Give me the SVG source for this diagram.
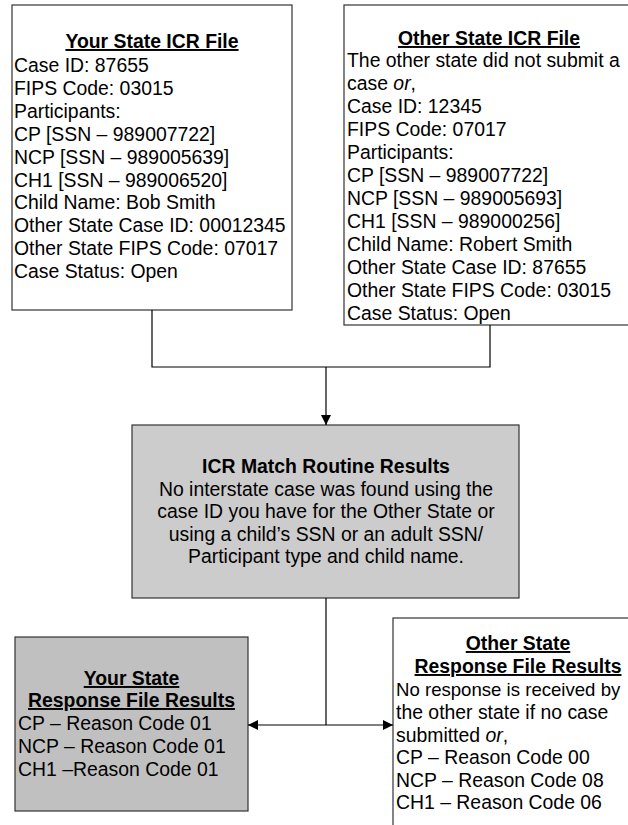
<svg xmlns="http://www.w3.org/2000/svg" width="628" height="825" viewBox="0 0 628 825">
  <style>
    text { font-family: "Liberation Sans", Arial, sans-serif; font-size: 19.4px; fill: #000; }
    .title { font-weight: bold; text-decoration: underline; text-anchor: middle; }
    .head { font-weight: bold; text-anchor: middle; }
    .mid { text-anchor: middle; }
    .box { fill: #fff; stroke: #333; stroke-width: 1.2; }
    .grey { fill: #cccccc; stroke: #333; stroke-width: 1.2; }
    .grey2 { fill: #c0c0c0; stroke: #333; stroke-width: 1.2; }
    .wire { fill: none; stroke: #000; stroke-width: 1.2; }
  </style>
  <defs>
    <marker id="arrow" viewBox="0 0 10 10" refX="10" refY="5" markerWidth="11" markerHeight="10" markerUnits="userSpaceOnUse" orient="auto-start-reverse">
      <path d="M0,0 L10,5 L0,10 z" fill="#000"/>
    </marker>
  </defs>

  <rect width="628" height="825" fill="#fff"/>

  <g id="your-state-icr-file">
    <rect class="box" x="12" y="5" width="280" height="305"/>
    <text class="title" x="152" y="48">Your State ICR File</text>
    <text x="14" y="72">Case ID: 87655</text>
    <text x="14" y="95">FIPS Code: 03015</text>
    <text x="14" y="118">Participants:</text>
    <text x="14" y="141">CP [SSN – 989007722]</text>
    <text x="14" y="164">NCP [SSN – 989005639]</text>
    <text x="14" y="187">CH1 [SSN – 989006520]</text>
    <text x="14" y="209">Child Name: Bob Smith</text>
    <text x="14" y="232">Other State Case ID: 00012345</text>
    <text x="14" y="255">Other State FIPS Code: 07017</text>
    <text x="14" y="278">Case Status: Open</text>
  </g>

  <g id="other-state-icr-file">
    <rect class="box" x="344" y="5" width="300" height="320"/>
    <text class="title" x="489" y="45">Other State ICR File</text>
    <text x="347" y="67">The other state did not submit a</text>
    <text x="347" y="90">case <tspan font-style="italic">or</tspan>,</text>
    <text x="347" y="113">Case ID: 12345</text>
    <text x="347" y="136">FIPS Code: 07017</text>
    <text x="347" y="159">Participants:</text>
    <text x="347" y="182">CP [SSN – 989007722]</text>
    <text x="347" y="205">NCP [SSN – 989005693]</text>
    <text x="347" y="228">CH1 [SSN – 989000256]</text>
    <text x="347" y="251">Child Name: Robert Smith</text>
    <text x="347" y="274">Other State Case ID: 87655</text>
    <text x="347" y="297">Other State FIPS Code: 03015</text>
    <text x="347" y="320">Case Status: Open</text>
  </g>

  <g id="icr-match-routine-results">
    <rect class="grey" x="132" y="425" width="387" height="173"/>
    <text class="head" x="326" y="473">ICR Match Routine Results</text>
    <text class="mid" x="326" y="496">No interstate case was found using the</text>
    <text class="mid" x="326" y="518">case ID you have for the Other State or</text>
    <text class="mid" x="326" y="541">using a child’s SSN or an adult SSN/</text>
    <text class="mid" x="326" y="563">Participant type and child name.</text>
  </g>

  <g id="your-state-response-file-results">
    <rect class="grey2" x="15" y="637" width="233" height="174"/>
    <text class="title" x="131.5" y="685">Your State</text>
    <text class="title" x="131.5" y="707">Response File Results</text>
    <text x="18" y="730">CP – Reason Code 01</text>
    <text x="18" y="753">NCP – Reason Code 01</text>
    <text x="18" y="776">CH1 –Reason Code 01</text>
  </g>

  <g id="other-state-response-file-results">
    <rect class="box" x="393" y="618" width="250" height="215"/>
    <text class="title" x="518" y="650">Other State</text>
    <text class="title" x="518" y="673">Response File Results</text>
    <text x="396" y="696" style="font-size:18.6px">No response is received by</text>
    <text x="396" y="719">the other state if no case</text>
    <text x="396" y="742">submitted <tspan font-style="italic">or</tspan>,</text>
    <text x="396" y="764">CP – Reason Code 00</text>
    <text x="396" y="787">NCP – Reason Code 08</text>
    <text x="396" y="809">CH1 – Reason Code 06</text>
  </g>

  <g id="connectors">
    <polyline class="wire" points="152,310 152,367 490,367 490,325"/>
    <line class="wire" x1="326" y1="367" x2="326" y2="425" marker-end="url(#arrow)"/>
    <line class="wire" x1="326" y1="598" x2="326" y2="725"/>
    <line class="wire" x1="248" y1="725" x2="393" y2="725" marker-start="url(#arrow)" marker-end="url(#arrow)"/>
  </g>
</svg>
